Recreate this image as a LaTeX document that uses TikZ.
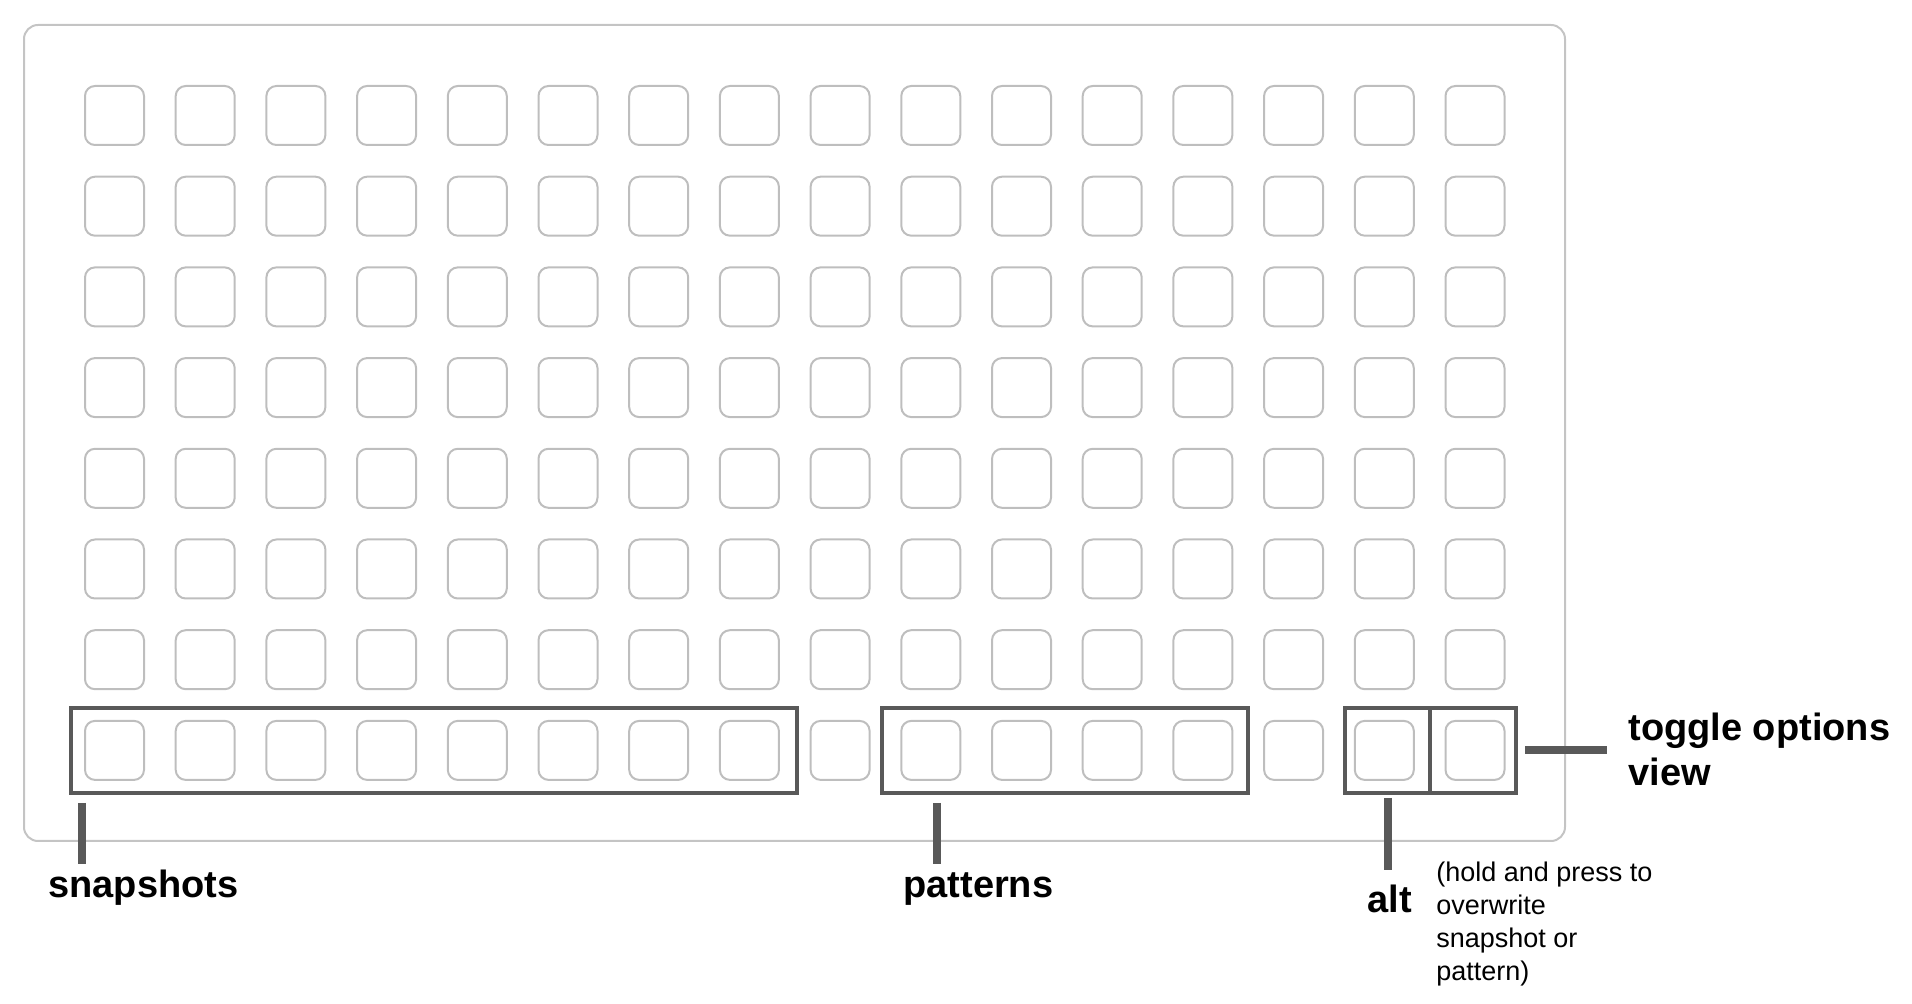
\documentclass[tikz,border=0pt]{standalone}
\usepackage{fontspec}
\setmainfont{Liberation Sans}
\definecolor{padgray}{RGB}{190,190,190}
\definecolor{framegray}{RGB}{196,196,196}
\definecolor{markgray}{RGB}{89,89,89}

\begin{document}
\begin{tikzpicture}[
  x=0.5pt, y=-0.5pt,
  pad/.style={rectangle, rounded corners=5pt, draw=padgray, line width=1pt, minimum size=29.5pt, inner sep=0pt},
  group/.style={rectangle, draw=markgray, line width=1.6pt, minimum height=42.5pt, inner sep=0pt},
  tick/.style={draw=markgray, line width=4pt},
  lbl/.style={font=\fontsize{19}{22.5}\selectfont\bfseries, inner sep=0pt, anchor=base west, align=left},
  note/.style={font=\fontsize{13.5}{16.5}\selectfont, inner sep=0pt, anchor=base west, align=left}
]
\useasboundingbox (0,0) rectangle (1912,1004);
\draw[framegray, line width=1pt, rounded corners=7pt] (24,25) rectangle (1565,841);

% 16 x 8 grid of pads
\foreach \r in {0,...,7}
  \foreach \c in {0,...,15}
    \node[pad] (p-\r-\c) at ({114.5+90.7*\c},{115.5+90.7*\r}) {};

% groups on the bottom row
\node[group, minimum width=363pt] (snap) at (434,750.5) {};
\node[group, minimum width=183pt] (pat) at (1065,750.5) {};
\node[group, minimum width=42.5pt] (alt) at (1387.5,750.5) {};
\node[group, minimum width=43pt] (tog) at (1473,750.5) {};

% labels (base = last line)
\node[lbl] (snap-lbl) at (48,898) {snapshots};
\node[lbl] (pat-lbl) at (903,898) {patterns};
\node[lbl] (alt-lbl) at (1367,913) {alt};
\node[note] (alt-note) at (1436,980) {(hold and press to\\overwrite\\snapshot or\\pattern)};
\node[lbl] (tog-lbl) at (1628,786) {toggle options\\view};

% ticks
\coordinate (snap-a) at (82,803);
\coordinate (snap-b) at (82,864);
\coordinate (pat-a) at (936.5,803);
\coordinate (pat-b) at (936.5,864);
\coordinate (alt-a) at (1388,798);
\coordinate (alt-b) at (1388,870);
\coordinate (tog-a) at (1525,750);
\coordinate (tog-b) at (1607,750);
\draw[tick] (snap-a) -- (snap-b);
\draw[tick] (pat-a) -- (pat-b);
\draw[tick] (alt-a) -- (alt-b);
\draw[tick] (tog-a) -- (tog-b);
\end{tikzpicture}
\end{document}
